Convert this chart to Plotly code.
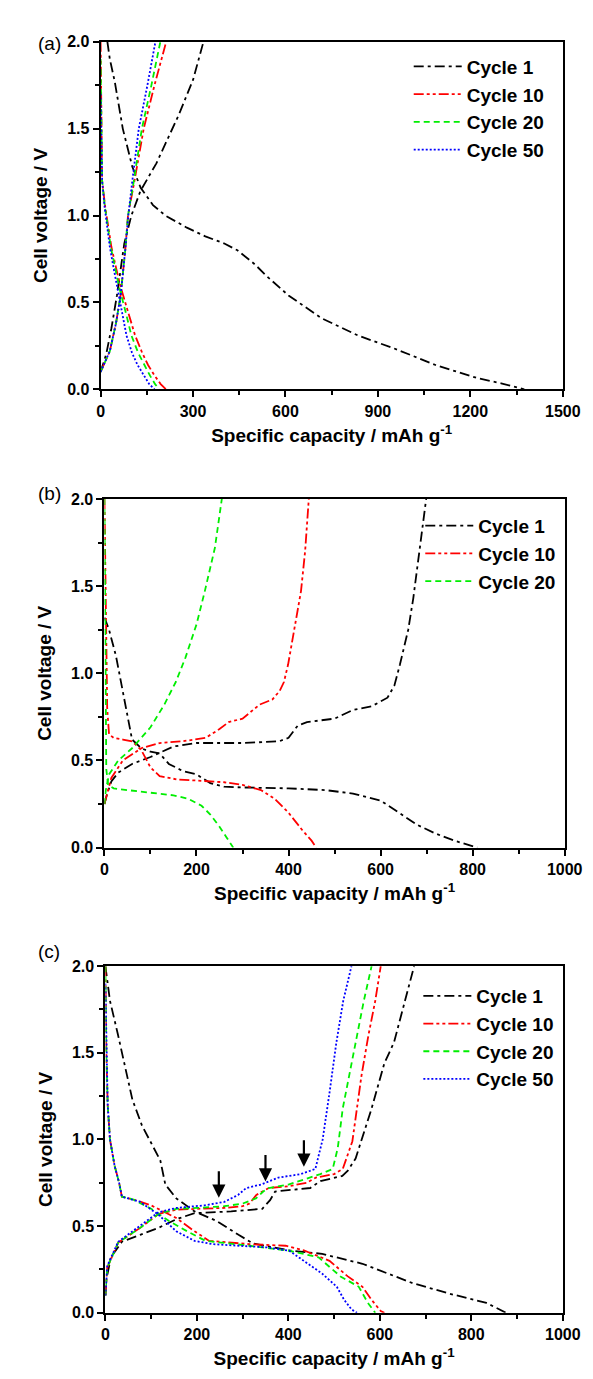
import plotly.graph_objects as go

W, H = 593, 1379

# ---------------- Panel (a) data ----------------
a_c1_dis_x = [22, 30, 46, 72, 103, 130, 170, 210, 280, 340, 400, 444, 500, 540, 610, 716, 835, 953, 1087, 1222, 1300, 1347, 1375]
a_c1_dis_y = [2.0, 1.9, 1.77, 1.50, 1.28, 1.16, 1.06, 1.0, 0.93, 0.88, 0.84, 0.80, 0.72, 0.65, 0.54, 0.41, 0.31, 0.235, 0.14, 0.065, 0.035, 0.015, 0.0]
a_c1_chg_x = [0, 5, 18, 35, 53, 77, 100, 129, 181, 254, 300, 334]
a_c1_chg_y = [0.1, 0.13, 0.2, 0.35, 0.54, 0.84, 1.0, 1.14, 1.30, 1.58, 1.78, 2.0]

a_c10_dis_x = [0, 2, 5, 15, 25, 35, 50, 65, 90, 112, 135, 154, 175, 195, 212]
a_c10_dis_y = [2.0, 1.5, 1.2, 1.05, 0.92, 0.82, 0.70, 0.59, 0.44, 0.31, 0.21, 0.14, 0.08, 0.03, 0.0]
a_c10_chg_x = [0, 8, 30, 50, 65, 80, 89, 110, 140, 175, 213]
a_c10_chg_y = [0.1, 0.13, 0.22, 0.38, 0.54, 0.8, 1.0, 1.2, 1.5, 1.75, 2.0]

a_c20_dis_x = [0, 2, 5, 14, 24, 33, 47, 60, 82, 100, 122, 142, 160, 177, 190]
a_c20_dis_y = [1.9, 1.5, 1.2, 1.05, 0.92, 0.82, 0.70, 0.59, 0.44, 0.31, 0.21, 0.14, 0.08, 0.03, 0.0]
a_c20_chg_x = [0, 8, 30, 50, 65, 80, 89, 108, 134, 165, 194]
a_c20_chg_y = [0.1, 0.13, 0.22, 0.38, 0.54, 0.8, 1.0, 1.2, 1.5, 1.75, 2.0]

a_c50_dis_x = [0, 2, 5, 13, 22, 30, 42, 53, 70, 84, 102, 120, 140, 158, 175]
a_c50_dis_y = [1.7, 1.5, 1.2, 1.05, 0.92, 0.82, 0.70, 0.59, 0.44, 0.31, 0.21, 0.14, 0.08, 0.03, 0.0]
a_c50_chg_x = [0, 8, 30, 50, 65, 80, 90, 103, 124, 152, 178]
a_c50_chg_y = [0.1, 0.13, 0.22, 0.38, 0.54, 0.8, 1.0, 1.2, 1.5, 1.75, 2.0]

# ---------------- Panel (b) data ----------------
b_c1_dis_x = [0, 3, 10, 25, 46, 60, 80, 100, 120, 140, 170, 200, 230, 260, 300, 400, 480, 540, 600, 640, 680, 720, 760, 810]
b_c1_dis_y = [1.32, 1.3, 1.25, 1.1, 0.82, 0.62, 0.57, 0.55, 0.54, 0.48, 0.44, 0.42, 0.37, 0.35, 0.345, 0.34, 0.33, 0.31, 0.27, 0.2, 0.13, 0.08, 0.04, 0.0]
b_c1_chg_x = [0, 5, 15, 30, 60, 100, 150, 200, 300, 380, 400, 420, 440, 500, 540, 580, 615, 630, 642, 660, 671, 685, 699]
b_c1_chg_y = [0.25, 0.3, 0.38, 0.43, 0.48, 0.52, 0.58, 0.6, 0.6, 0.61, 0.63, 0.7, 0.72, 0.74, 0.79, 0.81, 0.86, 0.93, 1.05, 1.25, 1.43, 1.7, 2.0]

b_c10_dis_x = [0, 2, 4, 6, 10, 20, 40, 60, 80, 100, 120, 160, 200, 260, 300, 340, 370, 400, 430, 450, 460]
b_c10_dis_y = [2.0, 1.5, 1.0, 0.8, 0.65, 0.63, 0.62, 0.61, 0.56, 0.46, 0.41, 0.39, 0.385, 0.375, 0.36, 0.33, 0.28, 0.2, 0.1, 0.04, 0.0]
b_c10_chg_x = [0, 5, 15, 40, 80, 120, 170, 220, 250, 270, 300, 337, 365, 381, 390, 399, 412, 427, 436, 444]
b_c10_chg_y = [0.25, 0.3, 0.4, 0.5, 0.57, 0.6, 0.61, 0.63, 0.68, 0.72, 0.74, 0.82, 0.85, 0.9, 0.95, 1.05, 1.25, 1.47, 1.7, 2.0]

b_c20_dis_x = [0, 1, 2, 4, 8, 20, 50, 113, 150, 182, 211, 230, 250, 265, 280]
b_c20_dis_y = [2.0, 1.5, 0.8, 0.45, 0.36, 0.34, 0.33, 0.31, 0.30, 0.28, 0.24, 0.19, 0.12, 0.06, 0.0]
b_c20_chg_x = [0, 3, 10, 30, 60, 100, 130, 155, 176, 200, 218, 240, 255]
b_c20_chg_y = [0.25, 0.33, 0.42, 0.5, 0.57, 0.69, 0.82, 0.95, 1.09, 1.28, 1.47, 1.72, 2.0]

# ---------------- Panel (c) data ----------------
c_c1_dis_x = [0, 10, 27, 45, 59, 80, 100, 120, 131, 155, 195, 243, 291, 323, 402, 474, 562, 633, 673, 753, 833, 876]
c_c1_dis_y = [2.0, 1.8, 1.61, 1.4, 1.23, 1.08, 0.98, 0.88, 0.74, 0.66, 0.585, 0.53, 0.45, 0.40, 0.36, 0.34, 0.283, 0.21, 0.17, 0.11, 0.057, 0.0]
c_c1_chg_x = [0, 2, 12, 36, 76, 116, 155, 195, 275, 343, 360, 371, 448, 470, 518, 530, 547, 581, 610, 631, 655, 675]
c_c1_chg_y = [0.1, 0.19, 0.32, 0.41, 0.45, 0.49, 0.54, 0.575, 0.585, 0.60, 0.65, 0.70, 0.72, 0.76, 0.79, 0.82, 0.89, 1.17, 1.44, 1.56, 1.8, 2.0]

c_c10_dis_x = [0, 2, 5, 10, 20, 30, 36, 60, 100, 116, 155, 195, 227, 315, 394, 434, 490, 530, 562, 582, 602, 610]
c_c10_dis_y = [2.0, 1.5, 1.2, 1.0, 0.85, 0.75, 0.67, 0.655, 0.62, 0.60, 0.547, 0.47, 0.415, 0.396, 0.387, 0.36, 0.30, 0.21, 0.15, 0.075, 0.01, 0.0]
c_c10_chg_x = [0, 4, 28, 76, 116, 155, 200, 260, 300, 315, 330, 357, 400, 440, 460, 500, 519, 540, 560, 575, 590, 602]
c_c10_chg_y = [0.1, 0.26, 0.405, 0.49, 0.57, 0.595, 0.6, 0.605, 0.615, 0.63, 0.68, 0.72, 0.73, 0.75, 0.78, 0.8, 0.83, 0.99, 1.37, 1.6, 1.8, 2.0]

c_c20_dis_x = [0, 2, 5, 10, 20, 30, 36, 60, 100, 139, 179, 219, 315, 402, 466, 514, 554, 574, 590]
c_c20_dis_y = [2.0, 1.5, 1.2, 1.0, 0.85, 0.75, 0.67, 0.655, 0.60, 0.53, 0.47, 0.415, 0.387, 0.358, 0.32, 0.21, 0.15, 0.057, 0.0]
c_c20_chg_x = [0, 4, 28, 76, 116, 155, 200, 260, 300, 329, 345, 357, 400, 448, 470, 497, 508, 519, 547, 565, 582]
c_c20_chg_y = [0.1, 0.26, 0.405, 0.49, 0.57, 0.6, 0.605, 0.615, 0.63, 0.66, 0.7, 0.72, 0.74, 0.78, 0.8, 0.83, 0.95, 1.18, 1.56, 1.8, 2.0]

c_c50_dis_x = [0, 2, 5, 10, 20, 30, 36, 76, 116, 155, 195, 235, 355, 402, 434, 474, 506, 522, 538, 550]
c_c50_dis_y = [1.9, 1.5, 1.2, 1.0, 0.85, 0.75, 0.67, 0.64, 0.566, 0.47, 0.415, 0.396, 0.377, 0.358, 0.30, 0.226, 0.15, 0.075, 0.02, 0.0]
c_c50_chg_x = [0, 4, 28, 76, 116, 155, 217, 260, 290, 308, 340, 378, 427, 459, 475, 490, 505, 520, 538]
c_c50_chg_y = [0.1, 0.27, 0.41, 0.5, 0.58, 0.605, 0.62, 0.64, 0.68, 0.72, 0.74, 0.78, 0.80, 0.83, 1.0, 1.27, 1.56, 1.8, 2.0]

arrow_x = [248, 350, 434]
arrow_y = [0.664, 0.758, 0.843]

# ---------------- styles ----------------
FONT = "Arial, Liberation Sans, sans-serif"
styles = {
    "Cycle 1": dict(color="#000000", dash="10px,4px,3px,4px", width=1.8),
    "Cycle 10": dict(color="#ff0000", dash="10px,3px,3px,3px,3px,3px", width=1.8),
    "Cycle 20": dict(color="#00ee00", dash="6px,4px", width=1.8),
    "Cycle 50": dict(color="#0000ff", dash="2px,2px", width=1.8),
}

panels = [
    ("x", "y", "legend", [
        ("Cycle 1", a_c1_dis_x, a_c1_dis_y, a_c1_chg_x, a_c1_chg_y),
        ("Cycle 10", a_c10_dis_x, a_c10_dis_y, a_c10_chg_x, a_c10_chg_y),
        ("Cycle 20", a_c20_dis_x, a_c20_dis_y, a_c20_chg_x, a_c20_chg_y),
        ("Cycle 50", a_c50_dis_x, a_c50_dis_y, a_c50_chg_x, a_c50_chg_y),
    ]),
    ("x2", "y2", "legend2", [
        ("Cycle 1", b_c1_dis_x, b_c1_dis_y, b_c1_chg_x, b_c1_chg_y),
        ("Cycle 10", b_c10_dis_x, b_c10_dis_y, b_c10_chg_x, b_c10_chg_y),
        ("Cycle 20", b_c20_dis_x, b_c20_dis_y, b_c20_chg_x, b_c20_chg_y),
    ]),
    ("x3", "y3", "legend3", [
        ("Cycle 1", c_c1_dis_x, c_c1_dis_y, c_c1_chg_x, c_c1_chg_y),
        ("Cycle 10", c_c10_dis_x, c_c10_dis_y, c_c10_chg_x, c_c10_chg_y),
        ("Cycle 20", c_c20_dis_x, c_c20_dis_y, c_c20_chg_x, c_c20_chg_y),
        ("Cycle 50", c_c50_dis_x, c_c50_dis_y, c_c50_chg_x, c_c50_chg_y),
    ]),
]

fig = go.Figure()
for xa, ya, lg, series in panels:
    for name, dx, dy, cx, cy in series:
        st = styles[name]
        grp = f"{lg}-{name}"
        fig.add_trace(go.Scatter(x=dx, y=dy, mode="lines", name=name, legendgroup=grp,
                                 legend=lg, showlegend=True, xaxis=xa, yaxis=ya,
                                 line=dict(color=st["color"], dash=st["dash"], width=st["width"])))
        fig.add_trace(go.Scatter(x=cx, y=cy, mode="lines", name=name, legendgroup=grp,
                                 legend=lg, showlegend=False, xaxis=xa, yaxis=ya,
                                 line=dict(color=st["color"], dash=st["dash"], width=st["width"])))

def px_x(p):
    return p / W

def px_y(p):
    return 1 - p / H

boxes = [  # left, right, top, bottom in pixels
    (92, 572, 26, 378),
    (96, 574, 489, 842),
    (97, 572, 962, 1313),
]
xranges = [[0, 1500], [0, 1000], [0, 1000]]
xdticks = [300, 200, 200]
xtitles = ["Specific capacity / mAh g<sup>-1</sup>",
           "Specific vapacity / mAh g<sup>-1</sup>",
           "Specific capacity / mAh g<sup>-1</sup>"]

tickfont = dict(family=FONT, size=16, color="black", weight="bold")
titlefont = dict(family=FONT, size=19, color="black", weight="bold")

layout = dict(
    width=W, height=H, margin=dict(l=0, r=0, t=0, b=0),
    paper_bgcolor="white", plot_bgcolor="white", showlegend=True,
)
for i, (l, r, t, b) in enumerate(boxes):
    sfx = "" if i == 0 else str(i + 1)
    layout["xaxis" + sfx] = dict(
        domain=[px_x(l), px_x(r)], range=xranges[i], anchor="y" + sfx,
        dtick=xdticks[i], tick0=0, ticks="outside", ticklen=6, tickwidth=1.5, tickcolor="black",
        minor=dict(ticks="outside", ticklen=4, dtick=xdticks[i] / 2, tickwidth=1.5, tickcolor="black"),
        showline=True, linecolor="black", linewidth=2, mirror=True,
        showgrid=False, zeroline=False, tickfont=tickfont,
        title=dict(text=xtitles[i], font=titlefont, standoff=10),
    )
    layout["yaxis" + sfx] = dict(
        domain=[px_y(b), px_y(t)], range=[0, 2.0], anchor="x" + sfx,
        dtick=0.5, tick0=0, tickformat=".1f", ticks="outside", ticklen=6, tickwidth=1.5, tickcolor="black",
        minor=dict(ticks="outside", ticklen=4, dtick=0.25, tickwidth=1.5, tickcolor="black"),
        showline=True, linecolor="black", linewidth=2, mirror=True,
        showgrid=False, zeroline=False, tickfont=tickfont,
        title=dict(text="Cell voltage / V", font=titlefont, standoff=14),
    )

legend_pos = [(412, 32), (424, 497), (422, 973)]
for i, (lx, ly) in enumerate(legend_pos):
    key = "legend" if i == 0 else f"legend{i + 1}"
    layout[key] = dict(
        x=px_x(lx), y=px_y(ly), xanchor="left", yanchor="top",
        bgcolor="rgba(255,255,255,0)", borderwidth=0,
        font=dict(family=FONT, size=19, color="black", weight="bold"),
        itemwidth=48, tracegroupgap=0,
    )

fig.update_layout(**layout)

# panel labels
for lbl, yy in [("(a)", 15), ("(b)", 483), ("(c)", 960)]:
    fig.add_annotation(text=lbl, x=px_x(25), y=px_y(yy), xref="paper", yref="paper",
                       showarrow=False, font=dict(family=FONT, size=19, color="black"))

# arrows in panel (c)
for ax_, ay_ in zip(arrow_x, arrow_y):
    fig.add_annotation(x=ax_, y=ay_, xref="x3", yref="y3", ax=0, ay=-28, text="",
                       showarrow=True, arrowhead=2, arrowsize=1.2, arrowwidth=2.2, arrowcolor="black")

fig.write_html("out.html")
